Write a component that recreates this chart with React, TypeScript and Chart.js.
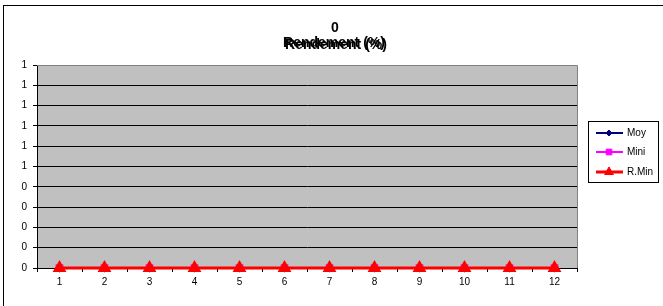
import React, { useEffect, useRef } from "react";
import { Chart, registerables } from "chart.js";

Chart.register(...registerables);

const categories = ["1", "2", "3", "4", "5", "6", "7", "8", "9", "10", "11", "12"];
const moyValues = [0, 0, 0, 0, 0, 0, 0, 0, 0, 0, 0, 0];
const miniValues = [0, 0, 0, 0, 0, 0, 0, 0, 0, 0, 0, 0];
const rMinValues = [0, 0, 0, 0, 0, 0, 0, 0, 0, 0, 0, 0];
const titleLines = ["0", "Rendement (%)"];
const seriesNames = ["Moy", "Mini", "R.Min"];

const FONT = '"Liberation Sans", Arial, sans-serif';

const decorPlugin = {
  id: "decor",
  beforeDraw(chart: any) {
    const { ctx, chartArea: a } = chart;
    ctx.save();
    ctx.fillStyle = "#ffffff";
    ctx.fillRect(0, 0, chart.width, chart.height);
    ctx.fillStyle = "#C0C0C0";
    ctx.fillRect(a.left, a.top, a.right - a.left, a.bottom - a.top);
    ctx.restore();
  },
  beforeDatasetsDraw(chart: any) {
    const { ctx, chartArea: a } = chart;
    ctx.save();
    ctx.strokeStyle = "#808080";
    ctx.lineWidth = 1;
    ctx.beginPath();
    ctx.moveTo(a.left, a.top + 0.5);
    ctx.lineTo(a.right + 0.5, a.top + 0.5);
    ctx.lineTo(a.right + 0.5, a.bottom);
    ctx.stroke();
    ctx.restore();
  },
  afterDraw(chart: any) {
    const { ctx } = chart;
    ctx.save();
    // outer chart border
    ctx.strokeStyle = "#000000";
    ctx.lineWidth = 1;
    ctx.strokeRect(3.5, 5.5, 800, 500);

    // title
    ctx.fillStyle = "#000000";
    ctx.textAlign = "center";
    ctx.textBaseline = "middle";
    ctx.font = `bold 14px ${FONT}`;
    const cx = 335;
    ctx.fillText(titleLines[0], cx, 28);
    ctx.fillText(titleLines[1], cx - 1, 43);
    ctx.fillText(titleLines[1], cx + 1, 45);

    // legend
    const lx = 588.5, ly = 121.5, lw = 70, lh = 61;
    ctx.strokeStyle = "#000000";
    ctx.lineWidth = 1;
    ctx.fillStyle = "#ffffff";
    ctx.fillRect(lx, ly, lw, lh);
    ctx.strokeRect(lx, ly, lw, lh);
    const ys = [133, 152, 172];
    ctx.font = `10px ${FONT}`;
    ctx.textAlign = "left";
    chart.data.datasets.forEach((ds: any, i: number) => {
      const y = ys[i];
      ctx.strokeStyle = ds.borderColor;
      ctx.lineWidth = ds.borderWidth;
      ctx.beginPath();
      ctx.moveTo(596, y);
      ctx.lineTo(623, y);
      ctx.stroke();
      ctx.fillStyle = ds.pointBackgroundColor;
      ctx.strokeStyle = ds.pointBorderColor;
      ctx.lineWidth = 1;
      const r = ds.pointRadius;
      ctx.beginPath();
      if (ds.pointStyle === "rectRot") {
        ctx.moveTo(609, y - r);
        ctx.lineTo(609 + r, y);
        ctx.lineTo(609, y + r);
        ctx.lineTo(609 - r, y);
        ctx.closePath();
      } else if (ds.pointStyle === "rect") {
        const s = r * Math.SQRT2;
        ctx.rect(609 - s / 2, y - s / 2, s, s);
      } else {
        ctx.moveTo(609, y - r);
        ctx.lineTo(609 + r * 0.87, y + r * 0.5);
        ctx.lineTo(609 - r * 0.87, y + r * 0.5);
        ctx.closePath();
      }
      ctx.fill();
      ctx.stroke();
      ctx.fillStyle = "#000000";
      ctx.fillText(ds.label, 627, y + 0.5);
    });
    ctx.restore();
  },
};

export default function App() {
  const canvasRef = useRef<HTMLCanvasElement | null>(null);

  useEffect(() => {
    document.body.style.margin = "0";
    const canvas = canvasRef.current;
    if (!canvas) return;
    const chart = new Chart(canvas, {
      type: "line",
      data: {
        labels: categories,
        datasets: [
          {
            label: seriesNames[0],
            data: moyValues,
            borderColor: "#000080",
            backgroundColor: "#000080",
            pointBackgroundColor: "#000080",
            pointBorderColor: "#000080",
            borderWidth: 2,
            pointStyle: "rectRot",
            pointRadius: 3,
            order: 3,
            clip: false,
          } as any,
          {
            label: seriesNames[1],
            data: miniValues,
            borderColor: "#FF00FF",
            backgroundColor: "#FF00FF",
            pointBackgroundColor: "#FF00FF",
            pointBorderColor: "#FF00FF",
            borderWidth: 2,
            pointStyle: "rect",
            pointRadius: 4,
            order: 2,
            clip: false,
          } as any,
          {
            label: seriesNames[2],
            data: rMinValues,
            borderColor: "#FF0000",
            backgroundColor: "#FF0000",
            pointBackgroundColor: "#FF0000",
            pointBorderColor: "#FF0000",
            borderWidth: 3,
            pointStyle: "triangle",
            pointRadius: 5,
            order: 1,
            clip: false,
          } as any,
        ],
      },
      options: {
        animation: false,
        responsive: false,
        maintainAspectRatio: false,
        layout: { padding: { left: 0, top: 65, right: 86, bottom: 18 } },
        plugins: {
          legend: { display: false },
          title: { display: false },
          tooltip: { enabled: false },
        },
        elements: { line: { tension: 0 } },
        scales: {
          x: {
            type: "category",
            offset: true,
            grid: {
              offset: true,
              drawOnChartArea: false,
              drawTicks: true,
              tickLength: 4,
              tickColor: "#000000",
              color: "#000000",
            },
            border: { color: "#000000", width: 1 },
            ticks: {
              color: "#000000",
              font: { family: FONT, size: 10 },
              padding: 4,
              maxRotation: 0,
              autoSkip: false,
            },
            afterFit: (scale: any) => {
              scale.height = 20;
            },
          },
          y: {
            min: 0,
            max: 1,
            grid: {
              color: (c: any) => (c.tick && c.tick.value === 1 ? "#808080" : "#000000"),
              tickColor: "#000000",
              tickLength: 4,
              lineWidth: 1,
            },
            border: { color: "#000000", width: 1 },
            ticks: {
              stepSize: 0.1,
              color: "#000000",
              font: { family: FONT, size: 10 },
              padding: 6,
              callback: (v: any) => String(Math.round(Number(v))),
            },
            afterFit: (scale: any) => {
              scale.width = 37;
            },
          },
        },
      },
      plugins: [decorPlugin],
    });
    return () => chart.destroy();
  }, []);

  return (
    <div style={{ width: 663, height: 306 }}>
      <canvas ref={canvasRef} width={663} height={306} />
    </div>
  );
}
